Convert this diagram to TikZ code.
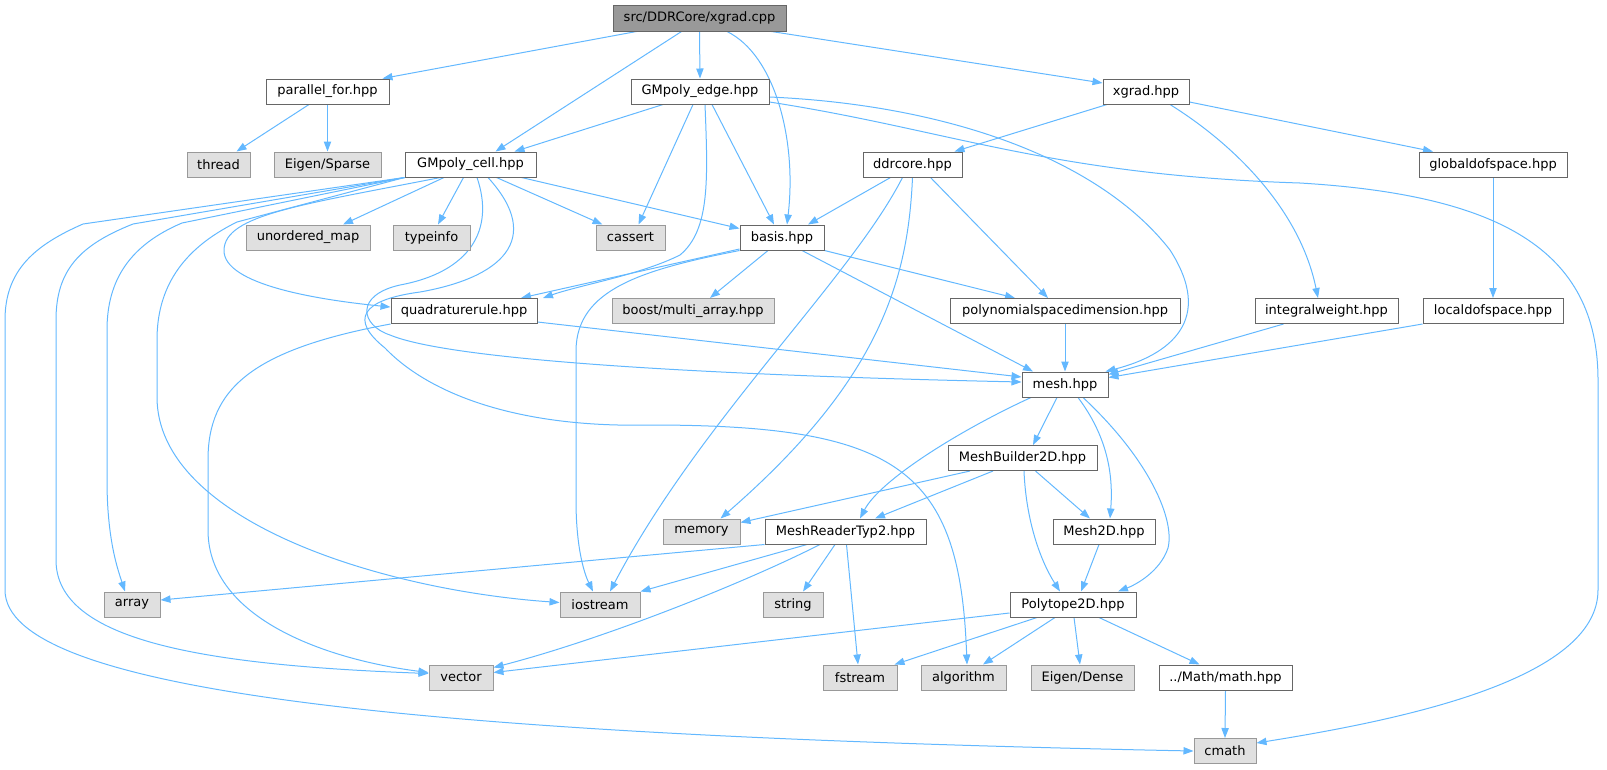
\documentclass[tikz,border=0pt]{standalone}
\usepackage{fontspec}
\setmainfont{DejaVu Sans}
\usetikzlibrary{arrows.meta,calc}
\definecolor{edgecol}{HTML}{63B8FF}
\definecolor{boxline}{HTML}{666666}
\definecolor{extline}{HTML}{999999}
\definecolor{extfill}{HTML}{E0E0E0}
\definecolor{rootfill}{HTML}{999999}
\definecolor{rootline}{HTML}{666666}
\pgfdeclarelayer{bg}
\pgfsetlayers{bg,main}
\begin{document}
\begin{tikzpicture}[x=0.75pt,y=-0.75pt,
  box/.style={draw=boxline, line width=0.75pt, fill=white, rectangle, inner sep=0pt,
    minimum height=18.75pt, font=\fontsize{9.75}{11}\selectfont, text=black},
  ext/.style={box, draw=extline, fill=extfill},
  rootbox/.style={box, draw=rootline, fill=rootfill, minimum height=19.5pt},
  mw/.style={minimum width=#1*0.75pt},
  dep/.style={draw=edgecol, line width=0.75pt, -{Triangle[length=7.5pt,width=5.5pt]}}]
\useasboundingbox (0,0) rectangle (1607,769);

% nodes
\node[rootbox, mw=173] (root) at (699.5,18) {src/DDRCore/xgrad.cpp};
\node[box, mw=123] (parfor) at (327.5,91.5) {parallel\_for.hpp};
\node[box, mw=138] (edge) at (700,91.5) {GMpoly\_edge.hpp};
\node[box, mw=86] (xgradh) at (1146,91.5) {xgrad.hpp};
\node[ext, mw=63] (thread) at (218.5,164.5) {thread};
\node[ext, mw=107] (sparse) at (327.5,164.5) {Eigen/Sparse};
\node[box, mw=131] (cell) at (470.5,164.5) {GMpoly\_cell.hpp};
\node[box, mw=99] (ddrcore) at (912.5,164.5) {ddrcore.hpp};
\node[box, mw=148] (globaldof) at (1493,164.5) {globaldofspace.hpp};
\node[ext, mw=124] (umap) at (308,237.5) {unordered\_map};
\node[ext, mw=77] (typeinfo) at (431.5,237.5) {typeinfo};
\node[ext, mw=69] (cassert) at (630.5,237.5) {cassert};
\node[box, mw=84] (basis) at (782,237.5) {basis.hpp};
\node[box, mw=146] (quad) at (464,311) {quadraturerule.hpp};
\node[ext, mw=162] (boost) at (693,311) {boost/multi\_array.hpp};
\node[box, mw=230] (polyspace) at (1065,311) {polynomialspacedimension.hpp};
\node[box, mw=143] (intweight) at (1326.5,311) {integralweight.hpp};
\node[box, mw=140] (localdof) at (1493,311) {localdofspace.hpp};
\node[box, mw=86] (mesh) at (1065,384.5) {mesh.hpp};
\node[box, mw=149] (meshbuilder) at (1022.5,458) {MeshBuilder2D.hpp};
\node[ext, mw=77] (memory) at (701.5,531.5) {memory};
\node[box, mw=161] (reader) at (845.5,531.5) {MeshReaderTyp2.hpp};
\node[box, mw=102] (mesh2d) at (1104,531.5) {Mesh2D.hpp};
\node[ext, mw=56] (array) at (132,604.5) {array};
\node[ext, mw=80] (iostream) at (600,604.5) {iostream};
\node[ext, mw=60] (string) at (793,604.5) {string};
\node[box, mw=126] (polytope) at (1073,604.5) {Polytope2D.hpp};
\node[ext, mw=64] (vector) at (461,677.5) {vector};
\node[ext, mw=74] (fstream) at (860,677.5) {fstream};
\node[ext, mw=85] (algorithm) at (963.5,677.5) {algorithm};
\node[ext, mw=103] (dense) at (1082.5,677.5) {Eigen/Dense};
\node[box, mw=133] (math) at (1225.5,677.5) {../Math/math.hpp};
\node[ext, mw=62] (cmath) at (1225,751) {cmath};

\begin{pgfonlayer}{bg}
% root
\draw[dep] ($(root.south)+(-63,0)$) -- ($(parfor.north)+(55,0)$);
\draw[dep] ($(root.south)+(-18,0)$) -- ($(cell.north)+(25,0)$);
\draw[dep] (root.south) -- (edge.north);
\draw[dep] ($(root.south)+(27.5,0)$) .. controls (775,55) and (797,140) .. ($(basis.north)+(5,0)$);
\draw[dep] ($(root.south)+(72,0)$) -- ($(xgradh.west)+(0,-8.5)$);
% parallel_for
\draw[dep] ($(parfor.south)+(-18.5,0)$) -- ($(thread.north)+(18,0)$);
\draw[dep] (parfor.south) -- (sparse.north);
% GMpoly_edge
\draw[dep] ($(edge.south)+(-37,0)$) -- ($(cell.north)+(44,0)$);
\draw[dep] ($(edge.south)+(-7,0)$) -- ($(cassert.north)+(8,0)$);
\draw[dep] ($(edge.south)+(5,0)$) .. controls (708,180) and (710,230) .. (680,255) .. controls (640,275) and (580,285) .. ($(quad.north)+(79,0)$);
\draw[dep] ($(edge.south)+(12,0)$) -- ($(basis.north)+(-8,0)$);
\draw[dep] ($(edge.east)+(0,5.5)$) .. controls (950,105) and (1100,160) .. (1170,250) .. controls (1215,320) and (1170,355) .. ($(mesh.north east)+(-3,0)$);
\draw[dep] ($(edge.east)+(0,10.5)$) .. controls (950,130) and (1050,175) .. (1300,183) .. controls (1500,195) and (1598,250) .. (1598,380) -- (1598,590) .. controls (1598,680) and (1400,720) .. ($(cmath.east)+(0,-8)$);
% xgrad.hpp
\draw[dep] ($(xgradh.south)+(-39,0)$) -- ($(ddrcore.north)+(42,0)$);
\draw[dep] ($(xgradh.south)+(24,0)$) .. controls (1235,145) and (1300,210) .. ($(intweight.north)+(-8.5,0)$);
\draw[dep] ($(xgradh.east)+(0,10.5)$) -- ($(globaldof.north)+(-60,0)$);
\draw[dep] (globaldof.south) -- (localdof.north);
% GMpoly_cell
\draw[dep] ($(cell.south)+(-26.5,0)$) -- ($(umap.north)+(35,0)$);
\draw[dep] ($(cell.south)+(-7,0)$) -- ($(typeinfo.north)+(6.5,0)$);
\draw[dep] ($(cell.south)+(26,0)$) -- ($(cassert.north)+(-28,0)$);
\draw[dep] ($(cell.south)+(51,0)$) -- ($(basis.west)+(0,-9)$);
\draw[dep] ($(cell.south)+(-30,0)$) .. controls (300,205) and (225,215) .. (224,250) .. controls (223,285) and (320,300) .. ($(quad.west)+(0,-4)$);
\draw[dep] (cell.south west) -- (83,224) .. controls (35,245) and (5,270) .. (5,320) -- (5,590) .. controls (5,690) and (400,735) .. (cmath.west);
\draw[dep] (cell.south west) -- (133,224) .. controls (80,245) and (56,270) .. (56,320) -- (56,560) .. controls (56,640) and (200,665) .. ($(vector.west)+(0,-4)$);
\draw[dep] (cell.south west) -- (182,223) .. controls (130,245) and (107,280) .. (107,330) -- (107,480) .. controls (107,540) and (118,570) .. ($(array.north)+(-7,0)$);
\draw[dep] (cell.south west) -- (237,222) .. controls (180,250) and (157,290) .. (157,340) -- (157,397) .. controls (157,520) and (380,590) .. ($(iostream.west)+(0,-2)$);
\draw[dep] ($(cell.south)+(6.5,0)$) .. controls (495,230) and (470,272) .. (400,285) .. controls (355,295) and (360,325) .. (390,335) .. controls (450,360) and (700,375) .. ($(mesh.west)+(0,-2.5)$);
\draw[dep] ($(cell.south)+(17.5,0)$) .. controls (545,240) and (500,278) .. (420,292) .. controls (360,300) and (350,320) .. (385,348) .. controls (430,395) and (520,428) .. (650,425) .. controls (900,425) and (960,470) .. ($(algorithm.north)+(3.5,0)$);
% quadraturerule
\draw[dep] ($(quad.east)+(0,11)$) -- ($(mesh.west)+(0,-7.5)$);
\draw[dep] (quad.south west) .. controls (250,350) and (208,390) .. (208,460) -- (208,530) .. controls (208,620) and (330,660) .. ($(vector.west)+(0,-5)$);
% basis
\draw[dep] ($(basis.west)+(0,11.5)$) -- ($(quad.north)+(57,0)$);
\draw[dep] ($(basis.south)+(-14,0)$) -- ($(boost.north)+(17,0)$);
\draw[dep] (basis.south west) .. controls (640,270) and (577,290) .. (576,350) -- (576,500) .. controls (576,550) and (585,575) .. ($(iostream.north)+(-7,0)$);
\draw[dep] (basis.south east) -- ($(polyspace.north)+(-50,0)$);
\draw[dep] ($(basis.south)+(20,0)$) -- ($(mesh.north)+(-32,0)$);
% ddrcore
\draw[dep] ($(ddrcore.south)+(-22,0)$) -- ($(basis.north)+(26,0)$);
\draw[dep] ($(ddrcore.south)+(-10,0)$) .. controls (850,280) and (700,420) .. ($(iostream.north)+(10,0)$);
\draw[dep] (ddrcore.south) .. controls (908,280) and (880,380) .. ($(memory.north)+(19,0)$);
\draw[dep] ($(ddrcore.south)+(18,0)$) -- ($(polyspace.north)+(-17,0)$);
% to mesh
\draw[dep] (polyspace.south) -- (mesh.north);
\draw[dep] ($(intweight.south)+(-43,0)$) -- ($(mesh.north east)+(0,3)$);
\draw[dep] (localdof.south west) -- ($(mesh.north east)+(0,6)$);
% mesh
\draw[dep] ($(mesh.south)+(-8,0)$) -- ($(meshbuilder.north)+(10.5,0)$);
\draw[dep] ($(mesh.south)+(-34,0)$) .. controls (960,430) and (880,480) .. ($(reader.north)+(14.5,0)$);
\draw[dep] ($(mesh.south)+(13,0)$) .. controls (1110,440) and (1113,480) .. ($(mesh2d.north)+(6,0)$);
\draw[dep] ($(mesh.south)+(18,0)$) .. controls (1150,460) and (1175,520) .. (1168,548) .. controls (1160,572) and (1135,585) .. ($(polytope.north)+(45,0)$);
% MeshBuilder2D
\draw[dep] ($(meshbuilder.south)+(-52.5,0)$) -- ($(memory.east)+(0,-9)$);
\draw[dep] ($(meshbuilder.south)+(-29.5,0)$) -- ($(reader.north)+(29.5,0)$);
\draw[dep] ($(meshbuilder.south)+(13,0)$) -- ($(mesh2d.north)+(-14,0)$);
\draw[dep] ($(meshbuilder.south)+(1.5,0)$) .. controls (1026,520) and (1040,560) .. ($(polytope.north)+(-13,0)$);
\draw[dep] ($(mesh2d.south)+(-5,0)$) -- ($(polytope.north)+(8,0)$);
% MeshReaderTyp2
\draw[dep] (reader.south west) -- ($(array.east)+(0,-4.5)$);
\draw[dep] ($(reader.south)+(-38.5,0)$) -- (iostream.north east);
\draw[dep] ($(reader.south)+(-25.5,0)$) .. controls (740,585) and (600,640) .. ($(vector.east)+(0,-10)$);
\draw[dep] ($(reader.south)+(-10.5,0)$) -- ($(string.north)+(10,0)$);
\draw[dep] ($(reader.south)+(1,0)$) -- ($(fstream.north)+(-2,0)$);
% Polytope2D
\draw[dep] ($(polytope.west)+(0,8.5)$) -- ($(vector.east)+(0,-5)$);
\draw[dep] ($(polytope.south)+(-36,0)$) -- ($(fstream.north east)+(-3,0)$);
\draw[dep] ($(polytope.south)+(-18,0)$) -- ($(algorithm.north)+(19.5,0)$);
\draw[dep] ($(polytope.south)+(1,0)$) -- ($(dense.north)+(-2.5,0)$);
\draw[dep] ($(polytope.south)+(26,0)$) -- ($(math.north)+(-26,0)$);
\draw[dep] (math.south) -- (cmath.north);
\end{pgfonlayer}
\end{tikzpicture}
\end{document}
